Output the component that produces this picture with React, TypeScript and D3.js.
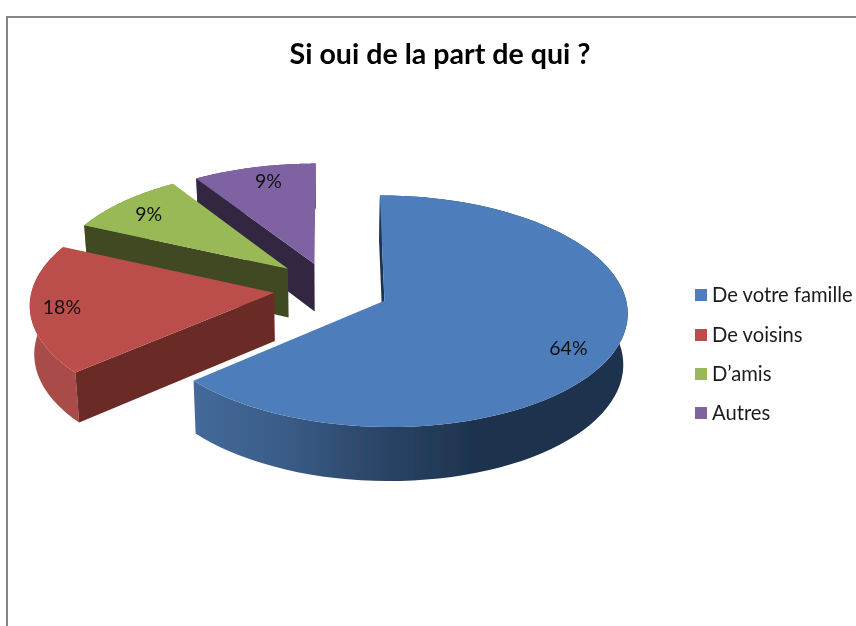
import React from "react";
import * as d3 from "d3";

const categories = ["De votre famille", "De voisins", "D’amis", "Autres"];
const counts = [7, 2, 1, 1];
const labels = ["64%", "18%", "9%", "9%"];
const title = "Si oui de la part de qui ?";
const topColors = ["#4d7ebb", "#bb4e4b", "#98b956", "#7f62a2"];
const cutColors = ["#1f3550", "#6b2a28", "#3f4a20", "#30263f"];
const rimColors = ["url(#blueRim)", "#a84c49", "#6f8a3e", "#5a4675"];
const legendY = [295, 335, 374, 413];
const labelDx = [-11, -5, 2, 6];
const labelDy = [5, 0, 0, 0];
const explodes = [0.245, 0.233, 0.233, 0.233];
const radii = [0.99, 1, 0.98, 1];
const sliceDy = [0, 0, -3, 0];
const depths = [50.5, 48, 49, 48];

const W = 856, H = 626;
const CX = 330, CY = 289, RX = 242, RY = 113.9, PERSP = 0.091, LOWER = 0.985;
const FONT = "Lato, Carlito, 'Open Sans', sans-serif";

type Pt = [number, number];

const arcs = d3.pie<number>().value((d) => d).sort(null).startAngle(0).endAngle(Math.PI * 2)(counts);

function world(a: any, r: number, theta: number): Pt {
  const mid = (a.startAngle + a.endAngle) / 2;
  const e = explodes[a.index];
  const rr = r * radii[a.index];
  return [e * Math.sin(mid) + rr * Math.sin(theta), e * Math.cos(mid) + rr * Math.cos(theta)];
}
function top([wx, wy]: Pt, i: number): Pt {
  const s = 1 / (1 + PERSP * wy);
  return [CX + RX * wx * s, CY - RY * wy * s + sliceDy[i]];
}
function low([wx, wy]: Pt, i: number): Pt {
  const s = 1 / (1 + PERSP * wy);
  return [CX + RX * wx * s * LOWER, CY - RY * wy * s * LOWER + depths[i] * s + sliceDy[i]];
}
const line = d3.line<Pt>();
const steps = (a: any) => d3.range(0, 81).map((i) => a.startAngle + ((a.endAngle - a.startAngle) * i) / 80);

export default function App() {
  const order = [3, 2, 1, 0];
  return (
    <svg width={W} height={H} style={{ position: "absolute", left: 0, top: 0, display: "block", background: "#fff" }}>
      <defs>
        <linearGradient id="blueRim" gradientUnits="userSpaceOnUse" x1={195} x2={480} y1={0} y2={0}>
          <stop offset="0" stopColor="#44699a" />
          <stop offset="0.3" stopColor="#3a5d88" />
          <stop offset="0.65" stopColor="#2a4566" />
          <stop offset="1" stopColor="#1d324d" />
        </linearGradient>
        <filter id="soft" x="0" y="0" width={W} height={H} filterUnits="userSpaceOnUse">
          <feGaussianBlur stdDeviation={0.45} />
        </filter>
      </defs>
      <g filter="url(#soft)">
        <rect x={0} y={0} width={W} height={H} fill="#fff" />
        <path d={`M7,${H}V17H${W}`} fill="none" stroke="#868686" strokeWidth={2} />
        <text x={440} y={63.5} textAnchor="middle" fontFamily={FONT} fontWeight={700} fontSize={28.6} fill="#000">{title}</text>
        {order.map((i) => {
          const a = arcs[i];
          const th = steps(a);
          const apexW = world(a, 0, 0);
          const edgeW = world(a, 1, a.startAngle);
          const rim = [...th.map((t) => top(world(a, 1, t), i)), ...th.slice().reverse().map((t) => low(world(a, 1, t), i))];
          const cut = [top(apexW, i), top(edgeW, i), low(edgeW, i), low(apexW, i)];
          const face = [top(apexW, i), ...th.map((t) => top(world(a, 1, t), i))];
          return (
            <g key={categories[i]}>
              <path d={line(rim) + "Z"} fill={rimColors[i]} />
              <path d={line(cut) + "Z"} fill={cutColors[i]} />
              <path d={line(face) + "Z"} fill={topColors[i]} />
            </g>
          );
        })}
        {arcs.map((a, i) => {
          const [x, y] = top(world(a, 0.85, (a.startAngle + a.endAngle) / 2), i);
          return (
            <text key={i} x={x + labelDx[i]} y={y + 7 + labelDy[i] - sliceDy[i]} textAnchor="middle" fontFamily={FONT} fontSize={19.5} fill="#111">{labels[i]}</text>
          );
        })}
        {categories.map((c, i) => (
          <g key={c}>
            <rect x={695} y={legendY[i] - 6} width={12} height={12} fill={topColors[i]} />
            <text x={712} y={legendY[i] + 6.5} fontFamily={FONT} fontSize={20.2} fill="#1a1a1a">{c}</text>
          </g>
        ))}
      </g>
    </svg>
  );
}
